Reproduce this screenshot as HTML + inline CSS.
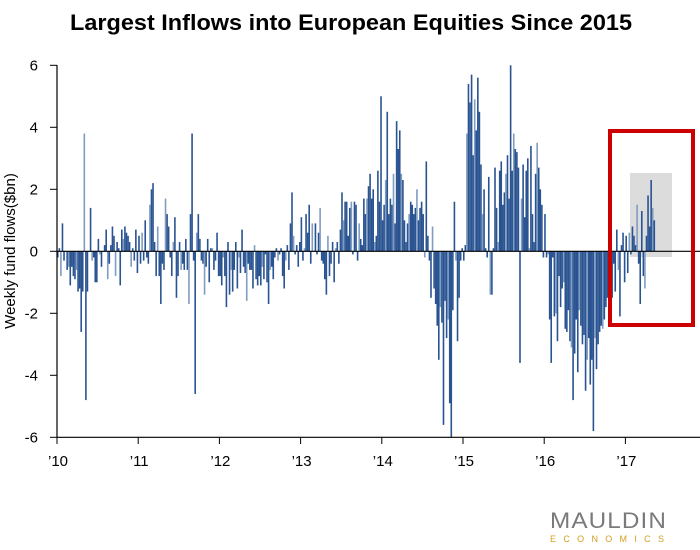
<!DOCTYPE html>
<html><head><meta charset="utf-8"><style>
html,body{margin:0;padding:0;background:#fff;}
svg{display:block;font-family:"Liberation Sans",sans-serif;}
</style></head><body>
<svg id="chart" width="700" height="550" viewBox="0 0 700 550">
<text x="351" y="30" text-anchor="middle" font-size="22" font-weight="bold" fill="#000" textLength="562" lengthAdjust="spacingAndGlyphs">Largest Inflows into European Equities Since 2015</text>
<text transform="translate(15,251) rotate(-90)" text-anchor="middle" font-size="15" fill="#000">Weekly fund flows($bn)</text>
<rect x="630" y="173" width="42" height="84" fill="#dcdcdc"/>
<g id="yticks"></g>
<g id="xticks"></g>
<g id="bars"></g>
<line x1="57" y1="251.3" x2="700" y2="251.3" stroke="#000" stroke-width="1.2"/>
<line x1="57" y1="65" x2="57" y2="437.5" stroke="#000" stroke-width="1.2"/>
<line x1="57" y1="437.3" x2="700" y2="437.3" stroke="#000" stroke-width="1.2"/>
<rect x="610" y="131" width="83" height="194" fill="none" stroke="#cc0000" stroke-width="4"/>
<text x="550" y="528" font-size="22" fill="#7a7a7a" letter-spacing="1" textLength="117" lengthAdjust="spacingAndGlyphs">MAULDIN</text>
<text x="550" y="542" font-size="9" fill="#d4a020" textLength="114" lengthAdjust="spacing">ECONOMICS</text>
</svg>
<script>
const yTickValues = [-6,-4,-2,0,2,4,6];
const xTickLabels = ["’10","’11","’12","’13","’14","’15","’16","’17"];
const startYear = 2010;
const flows2010 = [-0.2,0.1,-0.8,0.9,-0.3,0,-0.6,-0.5,-1.1,-0.5,-0.8,-0.9,-0.6,-1.3,-1.2,-2.6,-1.3,3.8,-4.8,-1.3,0,1.4,-0.3,-0.2,-1.0,-1.0,0.4,-0.1,-0.5,0,0.2,0.7,-0.9,-0.4,0.2,0.8,0.5,-0.8,0.3,0.1,-1.1,0.7,0.4,0.8,0.6,0.5,0.3,-0.5,0.1,-0.3,0.7,-0.7];
const flows2011 = [0.5,-0.4,0.6,-0.3,1.0,-0.2,-0.4,1.5,2.0,2.2,0.3,-0.8,0.8,-0.8,-1.7,-0.4,-0.6,1.7,1.2,0.8,-0.2,-0.8,0.3,1.1,-1.5,-0.8,0.3,-0.6,-0.4,-0.6,0.4,-0.6,-1.7,1.2,3.8,-0.3,-4.6,0.6,1.2,0.4,-0.3,-0.4,-1.4,-0.5,0.4,-1.0,0.1,0.1,-0.6,-0.3,0.6,-0.8];
const flows2012 = [-0.8,-1.1,-0.2,-0.8,-1.8,0.3,-1.4,-0.6,-1.3,-0.6,0.3,-1.2,-0.2,-0.7,0.7,-0.5,-0.7,-1.6,-0.4,-0.6,-0.6,-1.2,0.2,-0.9,-1.1,-0.8,-1.1,-0.5,-0.9,-0.1,-1.0,-1.7,-0.6,-0.5,-0.9,-0.2,0.1,-0.3,-0.1,0.1,-0.8,-1.2,-0.3,0.2,-0.6,0.9,1.9,0.5,-0.1,0.2,-0.5,0.3];
const flows2013 = [1.1,-0.3,0.1,1.2,0.6,1.5,-0.4,0.9,0,0.9,-0.1,0.6,1.4,-0.3,-0.4,-0.9,-1.4,0.5,-0.8,-0.4,0.3,-1.0,0.1,0.3,-0.4,0.7,1.9,1.0,1.6,1.6,0.5,1.4,1.6,-0.1,1.6,1.5,-0.3,0.9,0.4,0.2,1.7,1.2,1.7,2.1,2.5,1.7,2.0,0.3,0.5,2.6,1.6,5.0];
const flows2014 = [1.0,1.5,2.3,4.5,1.2,1.7,1.5,2.5,0.9,4.2,3.3,3.9,2.5,2.3,1.0,0.3,0.9,1.2,1.6,1.5,1.2,1.4,2.0,1.0,1.4,1.6,1.2,-0.2,2.9,0.5,-0.3,-1.5,0.8,-1.2,-1.7,-2.4,-3.5,-1.8,-2.3,-5.6,-1.6,-2.8,-2.2,-4.9,-6.0,-1.9,1.6,-0.3,-2.9,-1.5,-0.3,0.1];
const flows2015 = [-0.3,0.2,3.8,5.4,4.8,5.7,3.1,4.9,3.9,5.6,4.5,2.8,1.2,2.0,0.1,-0.2,2.4,-1.4,-1.4,0.1,2.7,1.4,0.3,2.6,2.9,1.5,1.9,2.5,3.1,1.7,6.0,2.6,3.8,3.3,3.2,2.7,-3.6,1.7,2.8,1.1,2.6,3.0,0.1,3.4,1.2,0.3,2.5,3.5,2.7,2.0,1.5,-0.2];
const flows2016 = [1.2,-0.2,-0.1,-2.2,-3.6,-0.2,-2.1,-2.0,-2.9,-0.8,-1.8,-1.2,-1.0,-2.5,-2.6,-1.9,-2.9,-3.1,-4.8,-3.3,-2.2,-3.9,-1.9,-2.4,-3.0,-2.7,-4.5,-3.5,-2.8,-4.3,-3.5,-5.8,-2.8,-3.8,-3.0,-2.6,-2.4,-2.5,-2.2,-1.8,-1.5,-1.6,-1.2,-1.5,-0.4,-1.3,0.7,-0.6,-2.1,0.2,0.6,-1.0];
const flows2017 = [0.5,-0.7,0.6,-0.1,0.8,0.5,0.2,1.5,-0.4,-1.7,1.3,-0.8,-1.2,0.5,1.8,0.8,2.3,1.4,1.0];

const NS='http://www.w3.org/2000/svg';
const X0=57, YEARW=81.2, Y0=251.3, PXU=31;
function xScale(t){return X0+(t-startYear)*YEARW;}
function yScale(v){return Y0-v*PXU;}

const yt=document.getElementById('yticks');
yTickValues.forEach(v=>{
  const l=document.createElementNS(NS,'line');
  l.setAttribute('x1',50);l.setAttribute('x2',57);
  l.setAttribute('y1',yScale(v));l.setAttribute('y2',yScale(v));
  l.setAttribute('stroke','#000');l.setAttribute('stroke-width','1');
  
  
  yt.appendChild(l);
  const t=document.createElementNS(NS,'text');
  t.setAttribute('x',38);t.setAttribute('y',yScale(v)+5);
  t.setAttribute('text-anchor','end');t.setAttribute('font-size','15');
  t.textContent=v;
  
  
  yt.appendChild(t);
});
const xt=document.getElementById('xticks');
xTickLabels.forEach((lab,i)=>{
  const x=xScale(startYear+i);
  const l=document.createElementNS(NS,'line');
  l.setAttribute('x1',x);l.setAttribute('x2',x);
  l.setAttribute('y1',437);l.setAttribute('y2',444);
  l.setAttribute('stroke','#000');
  
  
  xt.appendChild(l);
  const t=document.createElementNS(NS,'text');
  t.setAttribute('x',x+1);t.setAttribute('y',466);
  t.setAttribute('text-anchor','middle');t.setAttribute('font-size','15');
  t.textContent=lab;
  
  
  xt.appendChild(t);
});
const series=[flows2010,flows2011,flows2012,flows2013,flows2014,flows2015,flows2016,flows2017];
const bg=document.getElementById('bars');
series.forEach((arr,yi)=>{
  arr.forEach((v,wi)=>{
    const t=startYear+yi+(wi+0.5)/52;
    const x=xScale(t);
    const r=document.createElementNS(NS,'rect');
    const y1=yScale(Math.max(v,0)), y2=yScale(Math.min(v,0));
    r.setAttribute('x',x-0.8);r.setAttribute('width',1.6);
    r.setAttribute('y',y1);r.setAttribute('height',Math.max(y2-y1,0.5));
    r.setAttribute('fill',(wi%5===2)?'#7f9cc2':'#2a5391');
    
    
    bg.appendChild(r);
  });
});
</script>
</body></html>
